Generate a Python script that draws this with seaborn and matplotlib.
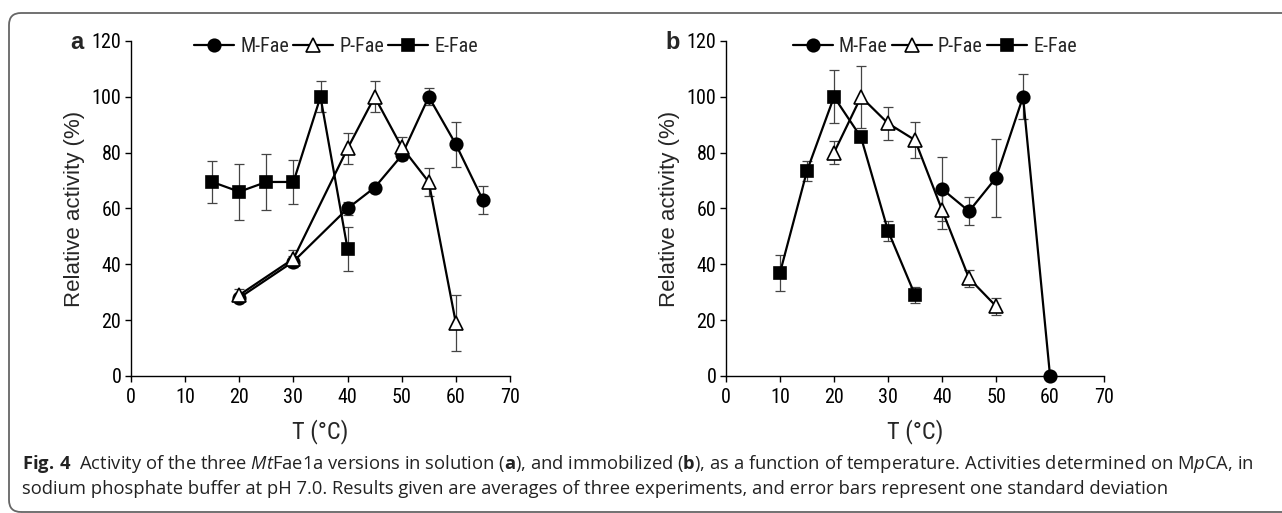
import numpy as np
import pandas as pd
import matplotlib.pyplot as plt
import seaborn as sns
from matplotlib import font_manager
from matplotlib.patches import FancyBboxPatch
from matplotlib.transforms import IdentityTransform

# ---- data ----
# (a) enzymes in solution
t_m_a = [20, 30, 40, 45, 50, 55, 60, 65]
act_m_a = [28, 41, 60, 67.5, 79, 100, 83, 63]
sd_m_a = [1.5, 2, 2.5, 1, 1.5, 3, 8, 5]

t_p_a = [20, 30, 40, 45, 50, 55, 60]
act_p_a = [29, 42, 81.5, 100, 82, 69.5, 19]
sd_p_a = [2, 3, 5.5, 5.5, 3.5, 5, 10]

t_e_a = [15, 20, 25, 30, 35, 40]
act_e_a = [69.5, 66, 69.5, 69.5, 100, 45.5]
sd_e_a = [7.5, 10, 10, 8, 5.5, 8]

# (b) immobilized enzymes
t_m_b = [40, 45, 50, 55, 60]
act_m_b = [67, 59, 71, 100, 0]
sd_m_b = [11.5, 5, 14, 8, 0]

t_p_b = [20, 25, 30, 35, 40, 45, 50]
act_p_b = [80, 100, 90.5, 84.5, 59.5, 35, 25]
sd_p_b = [4, 11, 6, 6.5, 7, 3, 3]

t_e_b = [10, 15, 20, 25, 30, 35]
act_e_b = [37, 73.5, 100, 85.5, 52, 29]
sd_e_b = [6.5, 3.5, 9.5, 0, 3.5, 3]

enzymes = ['M-Fae', 'P-Fae', 'E-Fae']
markers = {'M-Fae': 'o', 'P-Fae': '^', 'E-Fae': 's'}
faces = {'M-Fae': 'black', 'P-Fae': 'white', 'E-Fae': 'black'}
msizes = {'M-Fae': 9, 'P-Fae': 10, 'E-Fae': 8}

panels = {
    'a': {'M-Fae': (t_m_a, act_m_a, sd_m_a),
          'P-Fae': (t_p_a, act_p_a, sd_p_a),
          'E-Fae': (t_e_a, act_e_a, sd_e_a)},
    'b': {'M-Fae': (t_m_b, act_m_b, sd_m_b),
          'P-Fae': (t_p_b, act_p_b, sd_p_b),
          'E-Fae': (t_e_b, act_e_b, sd_e_b)},
}

# narrow Arial-like font if there is one
installed = {f.name for f in font_manager.fontManager.ttflist}
narrow = 'Liberation Sans'
for cand in ['Liberation Sans Narrow', 'Roboto Condensed', 'Arial Narrow']:
    if cand in installed:
        narrow = cand
        break

sns.set_style('ticks')
plt.rcParams['font.family'] = [narrow, 'Liberation Sans', 'DejaVu Sans']
plt.rcParams['mathtext.fontset'] = 'custom'
plt.rcParams['mathtext.rm'] = 'Open Sans'
plt.rcParams['mathtext.it'] = 'Open Sans:italic'
plt.rcParams['mathtext.bf'] = 'Open Sans:bold'

fig = plt.figure(figsize=(12.82, 5.13), dpi=100)

ax_pos = {'a': [0.1022, 0.2671, 0.2956, 0.6530],
          'b': [0.5663, 0.2671, 0.2949, 0.6530]}
leg_x = {'a': 0.262, 'b': 0.729}
letter_x = {'a': 0.060, 'b': 0.525}

for key, series in panels.items():
    ax = fig.add_axes(ax_pos[key])
    for enz in enzymes:
        t, act, sd = series[enz]
        df = pd.DataFrame({'T': t, 'act': act})
        ax.errorbar(t, act, yerr=sd, fmt='none', ecolor='#444444',
                    elinewidth=0.9, capsize=3.5, capthick=0.9, zorder=1)
        sns.lineplot(data=df, x='T', y='act', ax=ax, color='black', lw=1.6,
                     marker=markers[enz], markersize=msizes[enz],
                     markerfacecolor=faces[enz], markeredgecolor='black',
                     markeredgewidth=1.2, label=enz, zorder=3, clip_on=False)

    ax.set_xlim(0, 70)
    ax.set_ylim(0, 120)
    ax.set_xticks(np.arange(0, 71, 10))
    ax.set_yticks(np.arange(0, 121, 20))
    sns.despine(ax=ax)
    for sp in ['left', 'bottom']:
        ax.spines[sp].set_linewidth(1.0)
        ax.spines[sp].set_color('black')
    ax.tick_params(axis='both', direction='out', length=4, width=1,
                   labelsize=14.5, colors='black', pad=3)
    ax.tick_params(axis='x', pad=5)

    ax.set_xlabel('T (°C)', fontsize=17.5)
    ax.set_ylabel('Relative activity (%)', fontsize=16,
                  family=['Liberation Sans', 'DejaVu Sans'])
    ax.xaxis.set_label_coords(0.5, -0.13)
    ax.yaxis.set_label_coords(-0.121, 0.5)

    ax.legend(ncol=3, loc='center', bbox_to_anchor=(leg_x[key], 0.910),
              bbox_transform=fig.transFigure, frameon=False, fontsize=14.5,
              handlelength=2.0, handletextpad=0.3, columnspacing=0.2,
              borderpad=0)

    fig.text(letter_x[key], 0.917, key, fontsize=17, fontweight='bold',
             family=['Liberation Sans', 'DejaVu Sans'],
             ha='center', va='center')

# border around figure + caption
box = FancyBboxPatch((9, 1), 1400, 499, boxstyle='round,pad=0,rounding_size=12',
                     transform=IdentityTransform(), fill=False,
                     edgecolor='#666666', linewidth=1.3)
fig.patches.append(box)

line1 = (r'$\mathbf{Fig.\,4}$  Activity of the three $\mathit{Mt}$Fae1a versions in solution '
         r'($\mathbf{a}$), and immobilized ($\mathbf{b}$), as a function of temperature. '
         r'Activities determined on M$\mathit{p}$CA, in')
line2 = ('sodium phosphate buffer at pH 7.0. Results given are averages of three experiments, '
         'and error bars represent one standard deviation')
fig.text(22 / 1282, 1 - 469 / 513, line1, fontsize=13.2, family='Open Sans',
         ha='left', va='baseline', color='#222222')
fig.text(22 / 1282, 1 - 494 / 513, line2, fontsize=13.2, family='Open Sans',
         ha='left', va='baseline', color='#222222')

fig.savefig('out.png', dpi=100)
